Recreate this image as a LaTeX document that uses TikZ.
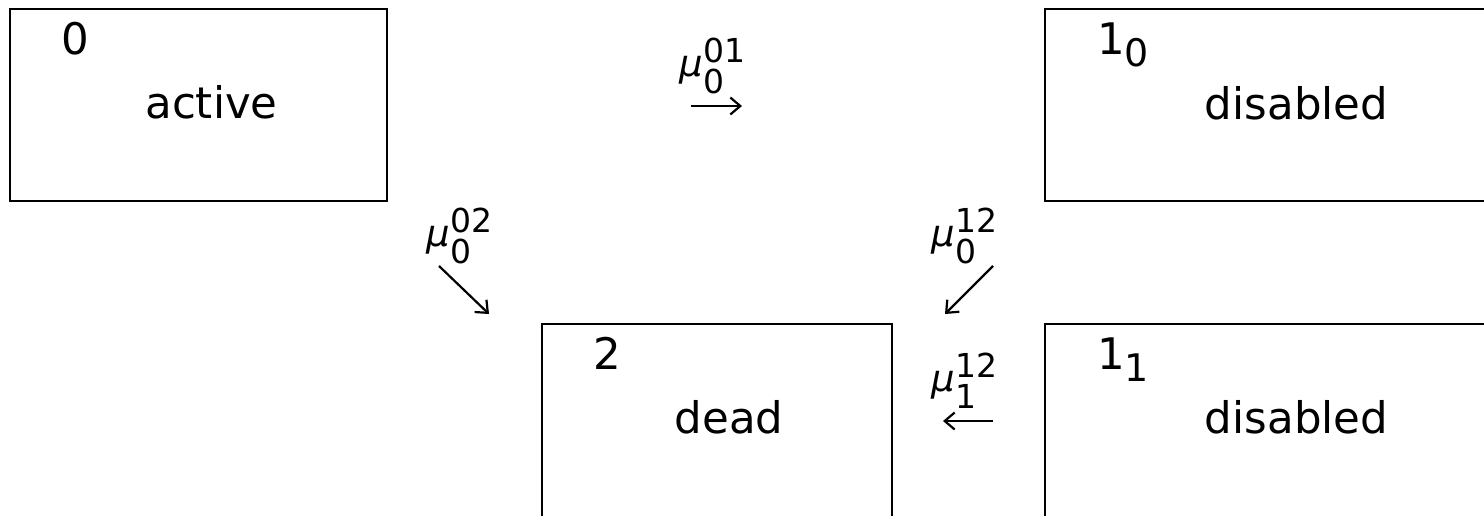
\documentclass[tikz,border=0pt]{standalone}
\usepackage{fontspec}
\setmainfont{DejaVu Sans}
\usetikzlibrary{arrows.meta}

\tikzset{
  statebox/.style={draw=black, line width=1.4pt, inner sep=0pt, outer sep=0pt,
    anchor=north west, minimum width=#1},
  statebox/.default=350pt,
  tag/.style={inner sep=0pt, outer sep=0pt, anchor=base west,
    font=\fontsize{43.5}{50}\selectfont},
  word/.style={inner sep=0pt, outer sep=0pt, anchor=base,
    font=\fontsize{43.5}{50}\selectfont},
  rate/.style={inner sep=0pt, outer sep=0pt, anchor=base west},
  flow/.style={line width=2.2pt,
    -{Straight Barb[length=10pt,width=17pt,line width=2.2pt]}}
}

% state label with a subscript
\newcommand{\substate}[2]{#1\raisebox{-12pt}{\fontsize{38}{38}\selectfont #2}}
% transition rate mu with sub- and superscript
\newcommand{\rateof}[2]{{\fontsize{37}{37}\selectfont\itshape μ}\kern0.5pt
  \rlap{\raisebox{14pt}{\fontsize{33}{33}\selectfont #2}}%
  \raisebox{-17pt}{\fontsize{33}{33}\selectfont #1}}

\begin{document}
\begin{tikzpicture}[x=1pt, y=-1pt]
\useasboundingbox (0,0) rectangle (1484,515);

% states
\node[statebox=377pt, minimum height=192pt] (s0)  at (10,9)    {};
\node[statebox=477pt, minimum height=192pt] (s10) at (1045,9)  {};
\node[statebox=350pt, minimum height=210pt] (s2)  at (542,324) {};
\node[statebox=477pt, minimum height=210pt] (s11) at (1045,324){};

\node[tag] (t0)  at (61,54)    {0};
\node[word] (w0) at (211.5,118) {active};
\node[tag] (t10) at (1097,54)  {\substate{1}{0}};
\node[word] (w10) at (1296.5,119) {disabled};
\node[tag] (t2)  at (593,369)  {2};
\node[word] (w2) at (729,433)  {dead};
\node[tag] (t11) at (1097,369) {\substate{1}{1}};
\node[word] (w11) at (1296.5,433) {disabled};

% rates
\node[rate] (r01)  at (679,76)  {\rateof{0}{01}};
\node[rate] (r02)  at (426,246) {\rateof{0}{02}};
\node[rate] (r12)  at (931,246) {\rateof{0}{12}};
\node[rate] (r112) at (931,391) {\rateof{1}{12}};

% transitions
\coordinate (a01s)  at (691,106);
\coordinate (a01e)  at (742,106);
\coordinate (a02s)  at (439,266);
\coordinate (a02e)  at (489,314);
\coordinate (a12s)  at (993,266);
\coordinate (a12e)  at (945,314);
\coordinate (a112s) at (993,421);
\coordinate (a112e) at (943,421);

\draw[flow] (a01s) -- (a01e);
\draw[flow] (a02s) -- (a02e);
\draw[flow] (a12s) -- (a12e);
\draw[flow] (a112s) -- (a112e);
\end{tikzpicture}
\end{document}
